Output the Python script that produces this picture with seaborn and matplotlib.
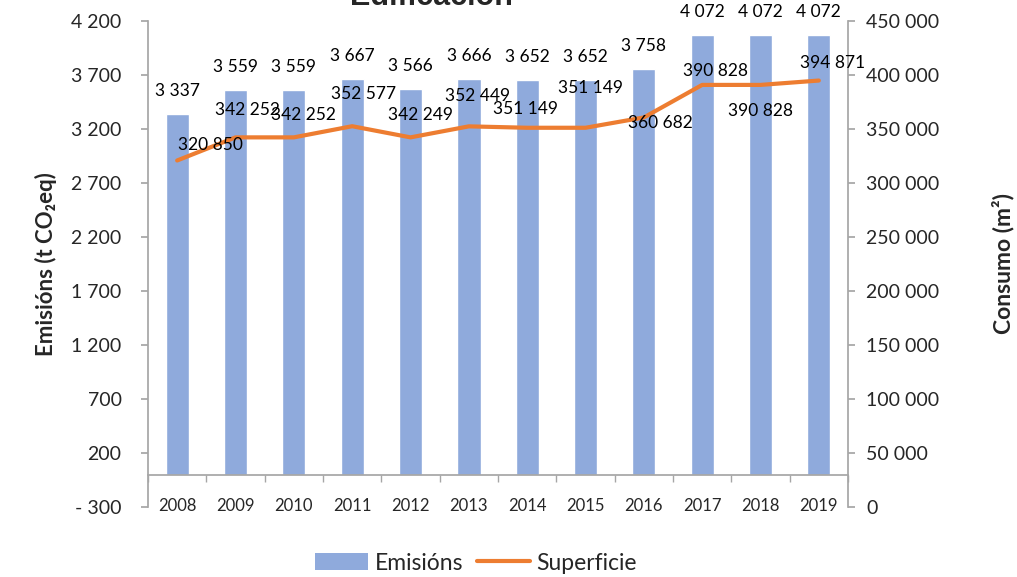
import matplotlib
matplotlib.use("Agg")
import matplotlib.pyplot as plt
import seaborn as sns
import pandas as pd
from matplotlib.patches import Patch
from matplotlib.lines import Line2D
from matplotlib.ticker import FixedLocator

years = ["2008", "2009", "2010", "2011", "2012", "2013", "2014", "2015", "2016", "2017", "2018", "2019"]
emisions = [3337, 3559, 3559, 3667, 3566, 3666, 3652, 3652, 3758, 4072, 4072, 4072]
superficie = [320850, 342252, 342252, 352577, 342249, 352449, 351149, 351149, 360682, 390828, 390828, 394871]
left_ticks = [-300, 200, 700, 1200, 1700, 2200, 2700, 3200, 3700, 4200]
right_ticks = [0, 50000, 100000, 150000, 200000, 250000, 300000, 350000, 400000, 450000]

# label offsets in pixels (layout only)
line_label_offsets = [(33, 15), (12, 27), (10, 22), (11, 32), (10, 22), (9, 30),
                      (-2, 19), (5, 40), (17, -6), (13, 14), (0, -26), (14, 18)]

sns.set_theme(style="white")
plt.rcParams['font.family'] = ['Lato', 'DejaVu Sans']

BAR = "#8FAADC"
LINE = "#ED7D31"
GRAY = "#A6A6A6"

def fmt(v):
    s = f"{abs(v):,}".replace(",", " ")
    return ("- " + s) if v < 0 else s

df = pd.DataFrame({"year": years, "emisions": emisions, "superficie": superficie})
df["pos"] = range(len(years))

fig = plt.figure(figsize=(10.17, 5.77), dpi=100)
ax = fig.add_axes([148/1017, 1-507/577, 700/1017, (507-21)/577])

sns.barplot(data=df, x="year", y="emisions", ax=ax, color=BAR, saturation=1, width=0.4)
ax.set_ylim(-300, 4200)
ax.set_xlim(-0.5, len(years)-0.5)
ax.yaxis.set_major_locator(FixedLocator(left_ticks))
ax.set_yticklabels([fmt(t) for t in left_ticks], fontsize=14)
ax.set_xlabel("")
ax.set_ylabel("Emisións (t CO₂eq)", fontsize=16, fontweight="bold", labelpad=10)

for s in ["top", "right"]:
    ax.spines[s].set_visible(False)
ax.spines["left"].set_color(GRAY)
ax.spines["bottom"].set_color(GRAY)
ax.spines["bottom"].set_position(("data", 0))
ax.tick_params(axis="y", which="major", direction="out", length=5, color=GRAY, left=True, pad=14)
ax.tick_params(axis="x", which="major", length=0, pad=17, labelsize=12)
ax.set_xticks([i - 0.5 for i in range(len(years)+1)], minor=True)
ax.tick_params(axis="x", which="minor", direction="out", length=5, color=GRAY, bottom=True)

for i, v in enumerate(emisions):
    ax.annotate(fmt(v), (i, v), xytext=(0, 23), textcoords="offset pixels",
                ha="center", va="center", fontsize=12.5, color="#000000")

ax2 = ax.twinx()
sns.lineplot(data=df, x="pos", y="superficie", ax=ax2, color=LINE, linewidth=3)
ax2.set_ylim(0, 450000)
ax2.set_xlim(-0.5, len(years)-0.5)
ax2.yaxis.set_major_locator(FixedLocator(right_ticks))
ax2.set_yticklabels([fmt(t) for t in right_ticks], fontsize=14)
ax2.set_ylabel("Consumo (m²)", fontsize=16.5, fontweight="bold", labelpad=38)
for s in ["top", "left", "bottom"]:
    ax2.spines[s].set_visible(False)
ax2.spines["right"].set_color(GRAY)
ax2.tick_params(axis="y", direction="out", length=5, color=GRAY, right=True, pad=8)
ax2.grid(False)
ax.grid(False)

for i, v in enumerate(superficie):
    dx, dy = line_label_offsets[i]
    ax2.annotate(fmt(v), (i, v), xytext=(dx, dy), textcoords="offset pixels",
                 ha="center", va="center", fontsize=12.5, color="#000000")

fig.text(431/1017, 1-5/577, "Edificación", ha="center", va="baseline",
         fontsize=22, fontweight="bold", family=["Liberation Sans", "DejaVu Sans"])

handles = [Patch(facecolor=BAR, edgecolor="none"),
           Line2D([0], [0], color=LINE, linewidth=3)]
fig.legend(handles, ["Emisións", "Superficie"], loc="center", bbox_to_anchor=(476/1017, 1-563/577),
           ncol=2, frameon=False, fontsize=16.5, handlelength=2.3, handleheight=0.75,
           columnspacing=0.6, handletextpad=0.3)

fig.savefig("out.png", dpi=100)
